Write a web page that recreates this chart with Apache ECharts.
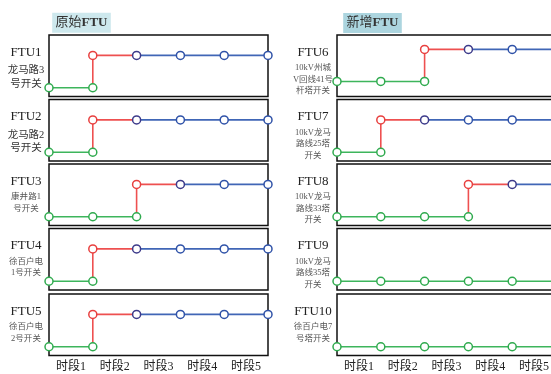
<!DOCTYPE html>
<html>
<head>
<meta charset="utf-8">
<script src="https://cdn.jsdelivr.net/npm/echarts@6/dist/echarts.min.js"></script>
<style>
  html, body { margin: 0; padding: 0; background: #fff; }
  #chart { width: 551px; height: 374px; }
</style>
</head>
<body>
<div id="chart"></div>
<script>
// data
var periods = ['时段1', '时段2', '时段3', '时段4', '时段5'];
var timePoints = [0, 1, 2, 3, 4, 5];
var groupTitles = ['原始', '新增'];
var ftuNames = ['FTU1', 'FTU2', 'FTU3', 'FTU4', 'FTU5', 'FTU6', 'FTU7', 'FTU8', 'FTU9', 'FTU10'];
var ftuDescs = [
    ['龙马路3', '号开关'],
    ['龙马路2', '号开关'],
    ['康井路1', '号开关'],
    ['徐百户电', '1号开关'],
    ['徐百户电', '2号开关'],
    ['10kV州城', 'V回线41号', '杆塔开关'],
    ['10kV龙马', '路线25塔', '开关'],
    ['10kV龙马', '路线33塔', '开关'],
    ['10kV龙马', '路线35塔', '开关'],
    ['徐百户电7', '号塔开关']
];
// time point at which each FTU switches (-1 = never)
var switchAt = [1, 1, 2, 1, 1, 2, 1, 3, -1, -1];

// layout
var colLeft = [49, 337];
var colLabelX = [26, 313];
var rowTop = [35, 99.5, 164, 228.5, 294];
var panelW = 219, panelH = 61.5;
var bigDesc = [true, true, false, false, false, false, false, false, false, false];
var yRange = function(i) {
    if (i === 5) return [-0.47, 1.45];
    return [-0.27, 1.63];
};

var GREEN = '#2faa4e', GREEN_LINE = '#3db55c';
var RED = '#e8403f', RED_LINE = '#ee5050';
var BLUE = '#2f52a8', BLUE_LINE = '#4066b6';
var PURPLE = '#3c3a8a';
var FONT = '"Liberation Serif", "Noto Sans CJK SC", serif';

var grids = [], xAxes = [], yAxes = [], series = [], graphics = [];

var sym = function(color) {
    return { color: '#fff', borderColor: color, borderWidth: 1.5 };
};

for (let i = 0; i < ftuNames.length; i++) {
    const col = i < 5 ? 0 : 1;
    const row = i % 5;
    const pTop = rowTop[row];
    grids.push({
        left: colLeft[col], top: pTop, width: panelW, height: panelH,
        show: true, borderColor: '#111', borderWidth: 1.5,
        backgroundColor: 'transparent',
        outerBoundsMode: 'none'
    });
    xAxes.push({
        type: 'value', gridIndex: i, min: 0, max: 5,
        show: false
    });
    const yr = yRange(i);
    yAxes.push({
        type: 'value', gridIndex: i, min: yr[0], max: yr[1],
        show: false
    });

    const s = switchAt[i];
    if (s >= 0) {
        // step up
        series.push({
            type: 'line', xAxisIndex: i, yAxisIndex: i,
            data: [
                { value: [s, 0], symbol: 'none' },
                { value: [s, 1] },
                { value: [s + 1, 1], symbol: 'none' }
            ],
            symbol: 'circle', symbolSize: 8,
            lineStyle: { color: RED_LINE, width: 1.6 },
            itemStyle: sym(RED),
            silent: true
        });
        // switched state
        const hi = timePoints.filter(function(t) { return t >= s + 1; }).map(function(t, k) {
            return k === 0 ? { value: [t, 1], itemStyle: sym(PURPLE) } : { value: [t, 1] };
        });
        series.push({
            type: 'line', xAxisIndex: i, yAxisIndex: i,
            data: hi,
            symbol: 'circle', symbolSize: 8,
            lineStyle: { color: BLUE_LINE, width: 1.6 },
            itemStyle: sym(BLUE),
            silent: true
        });
    }
    const lo = timePoints.filter(function(t) { return s < 0 || t <= s; }).map(function(t) { return [t, 0]; });
    series.push({
        type: 'line', xAxisIndex: i, yAxisIndex: i,
        data: lo,
        symbol: 'circle', symbolSize: 8,
        lineStyle: { color: GREEN_LINE, width: 1.6 },
        itemStyle: sym(GREEN),
        silent: true
    });

    // side labels
    graphics.push({
        type: 'text', x: colLabelX[col], y: pTop + 17.5,
        style: {
            text: ftuNames[i], fill: '#222', font: '13px ' + FONT,
            textAlign: 'center', textVerticalAlign: 'middle'
        }
    });
    const big = bigDesc[i];
    graphics.push({
        type: 'text', x: colLabelX[col], y: pTop + (big ? 28.5 : 27.5),
        style: {
            text: ftuDescs[i].join('\n'), fill: big ? '#333' : '#555',
            font: (big ? '10.5px ' : '8.5px ') + FONT,
            lineHeight: big ? 13.5 : 11.5,
            textAlign: 'center', textVerticalAlign: 'top'
        }
    });
}

// period labels under the bottom panels
[4, 9].forEach(function(g) {
    xAxes.push({
        type: 'category', gridIndex: g, data: periods, boundaryGap: true,
        position: 'bottom',
        axisLine: { show: false }, axisTick: { show: false }, splitLine: { show: false },
        axisLabel: { color: '#222', fontSize: 12, fontFamily: FONT, margin: 5 }
    });
});

// group titles
[[81.5, 22.7, '#cde8ed'], [372.5, 23, '#acd5df']].forEach(function(t, k) {
    graphics.push({
        type: 'rect', shape: { x: t[0] - 29.3, y: t[1] - 10, width: 58.6, height: 20 },
        style: { fill: t[2] }
    });
    graphics.push({
        type: 'text', x: t[0], y: t[1],
        style: {
            text: '{a|' + groupTitles[k] + '}{b|FTU}',
            textAlign: 'center', textVerticalAlign: 'middle',
            rich: {
                a: { fontSize: 13, fontFamily: FONT, fill: '#333' },
                b: { fontSize: 13, fontFamily: FONT, fontWeight: 'bold', fill: '#333' }
            }
        }
    });
});

var chart = echarts.init(document.getElementById('chart'));
chart.setOption({
    animation: false,
    grid: grids,
    xAxis: xAxes,
    yAxis: yAxes,
    series: series,
    graphic: graphics
});
</script>
</body>
</html>
